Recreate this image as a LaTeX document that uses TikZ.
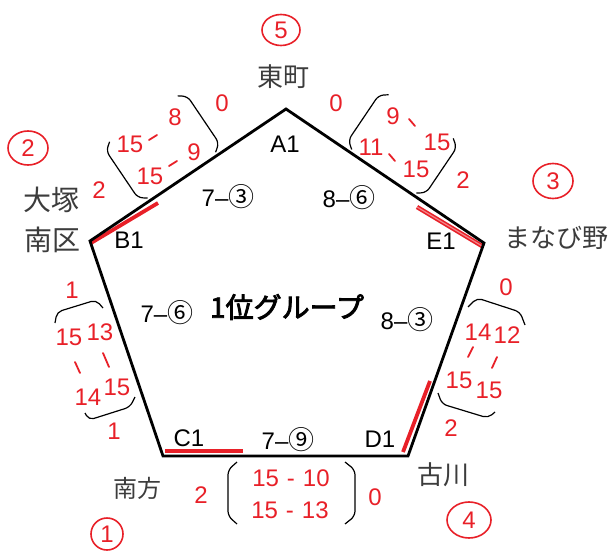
\documentclass[tikz,border=0pt]{standalone}
\usepackage{fontspec}
\setmainfont{Liberation Sans}
\newfontfamily\jp{Noto Sans CJK JP}
\newfontfamily\jpb[FakeBold=3]{Noto Sans CJK JP}
\usetikzlibrary{calc,shapes.geometric}
\definecolor{hred}{RGB}{232,32,40}
\definecolor{hgray}{RGB}{60,60,60}
\begin{document}
\begin{tikzpicture}[x=1pt,y=-1pt,
  edge/.style={line width=2.8pt, line join=miter},
  hl/.style={hred, line width=3.8pt},
  vlab/.style={font=\fontsize{24}{24}\selectfont, inner sep=0},
  score/.style={font=\fontsize{24}{24}\selectfont, inner sep=0},
  place/.style={font=\jp\fontsize{26}{26}\selectfont, text=hgray, inner sep=0},
  rnum/.style={font=\fontsize{24}{24}\selectfont, text=hred, inner sep=0},
  rank/.style={draw=hred, line width=1.6pt, ellipse, text=hred, font=\fontsize{24}{24}\selectfont, inner sep=0},
  brk/.style={line width=1.2pt, rounded corners=5pt},
  dsh/.style={hred, line width=1.8pt, line cap=round},
]
\useasboundingbox (0,0) rectangle (615,556);
% vertices
\coordinate (A) at (286,109);
\coordinate (B) at (90,241);
\coordinate (C) at (163,456);
\coordinate (D) at (408,456);
\coordinate (E) at (484,243);
% red highlights
\coordinate (hb1) at (91,243);  \coordinate (hb2) at (158,203);
\coordinate (he1) at (417,207); \coordinate (he2) at (482,246);
\coordinate (hc1) at (165,451); \coordinate (hc2) at (243,451);
\coordinate (hd1) at (403,452); \coordinate (hd2) at (430,381);
\draw[hl] (hb1) -- (hb2);
\draw[hred, line width=1.6pt, double=hred!55, double distance=1.2pt] (he1) -- (he2);
\draw[hl] (hc1) -- (hc2);
\draw[hl] (hd1) -- (hd2);
% pentagon
\draw[edge] (A) -- (B) -- (C) -- (D) -- (E) -- cycle;
% vertex labels
\node[vlab] (a1) at (285,144) {A1};
\node[vlab] (b1) at (129,240) {B1};
\node[vlab] (e1) at (441,241) {E1};
\node[vlab] (c1) at (189,438) {C1};
\node[vlab] (d1) at (380,439) {D1};
% inner scores
\node[score] (s1) at (228,197) {7–{\jp\fontsize{26}{26}\selectfont ③}};
\node[score] (s2) at (349,198) {8–{\jp\fontsize{26}{26}\selectfont ⑥}};
\node[score] (s3) at (167,313) {7–{\jp\fontsize{26}{26}\selectfont ⑥}};
\node[score] (s4) at (407,320) {8–{\jp\fontsize{26}{26}\selectfont ③}};
\node[score] (s5) at (288,440) {7–{\jp\fontsize{26}{26}\selectfont ⑨}};
\node[font=\jpb\fontsize{28}{28}\selectfont, inner sep=0] (title) at (287,307) {1位グループ};
% place names
\node[place] (p5) at (283,77) {東町};
\node[place, font=\jp\fontsize{28}{28}\selectfont] (p2a) at (51,200) {大塚};
\node[place, font=\jp\fontsize{28}{28}\selectfont] (p2b) at (52,240) {南区};
\node[place] (p3) at (556,238) {まなび野};
\node[place] (p4) at (443,475) {古川};
\node[place, font=\jp\fontsize{24}{24}\selectfont] (p1) at (137,488) {南方};
% ranks
\node[rank, minimum width=38pt, minimum height=31pt] (r5) at (281,30) {5};
\node[rank, minimum width=40pt, minimum height=34pt] (r2) at (28,148) {2};
\node[rank, minimum width=40pt, minimum height=35pt] (r3) at (553,181) {3};
\node[rank, minimum width=44pt, minimum height=36pt] (r4) at (469,520) {4};
\node[rank, minimum width=32pt, minimum height=32pt] (r1) at (107,534) {1};
% AB results
\node[rnum] (ab0) at (222,103) {0};
\node[rnum] (ab2) at (99,190) {2};
\node[rnum] (abt1) at (130,144) {15};
\node[rnum] (abt2) at (175,117) {8};
\node[rnum] (abb1) at (150,176) {15};
\node[rnum] (abb2) at (194,152) {9};
\coordinate (abd1) at (149,140); \coordinate (abd2) at (157,135);
\coordinate (abd3) at (169,166); \coordinate (abd4) at (177,161);
\draw[dsh] (abd1) -- (abd2);
\draw[dsh] (abd3) -- (abd4);
\begin{scope}[shift={(159,147)}, rotate=34]
  \draw[brk] (-38,-32) -- (-46,-26) -- (-46,30) -- (-38,36);
  \draw[brk] (44,-32) -- (52,-26) -- (52,30) -- (44,36);
\end{scope}
% AE results
\node[rnum] (ae0) at (336,103) {0};
\node[rnum] (ae2) at (463,180) {2};
\node[rnum] (aet1) at (393,116) {9};
\node[rnum] (aet2) at (437,142) {15};
\node[rnum] (aeb1) at (371,147) {11};
\node[rnum] (aeb2) at (416,169) {15};
\coordinate (aed1) at (409,119); \coordinate (aed2) at (415,126);
\coordinate (aed3) at (389,154); \coordinate (aed4) at (395,161);
\draw[dsh] (aed1) -- (aed2);
\draw[dsh] (aed3) -- (aed4);
\begin{scope}[shift={(405,142)}, rotate=-34]
  \draw[brk] (-40,-30) -- (-48,-24) -- (-48,30) -- (-40,36);
  \draw[brk] (38,-30) -- (46,-24) -- (46,30) -- (38,36);
\end{scope}
% BC results
\node[rnum] (bc1) at (72,290) {1};
\node[rnum] (bc2) at (114,431) {1};
\node[rnum] (bc3) at (69,337) {15};
\node[rnum] (bc4) at (88,397) {14};
\node[rnum] (bc5) at (100,332) {13};
\node[rnum] (bc6) at (117,387) {15};
\coordinate (bd1) at (75,362); \coordinate (bd2) at (80,373);
\coordinate (bd3) at (103,353); \coordinate (bd4) at (109,367);
\draw[dsh] (bd1) -- (bd2);
\draw[dsh] (bd3) -- (bd4);
\coordinate (bk1) at (55,323); \coordinate (bk2) at (57,312);
\coordinate (bk3) at (96,300); \coordinate (bk4) at (103,308);
\draw[brk] (bk1) -- (bk2) -- (bk3) -- (bk4);
\coordinate (bk5) at (85,413); \coordinate (bk6) at (89,420);
\coordinate (bk7) at (130,407); \coordinate (bk8) at (135,397);
\draw[brk] (bk5) -- (bk6) -- (bk7) -- (bk8);
% DE results
\node[rnum] (de0) at (506,287) {0};
\node[rnum] (de2) at (451,428) {2};
\node[rnum] (de3) at (478,332) {14};
\node[rnum] (de4) at (507,335) {12};
\node[rnum] (de5) at (459,380) {15};
\node[rnum] (de6) at (489,390) {15};
\coordinate (dd1) at (468,357); \coordinate (dd2) at (473,347);
\coordinate (dd3) at (492,368); \coordinate (dd4) at (497,357);
\draw[dsh] (dd1) -- (dd2);
\draw[dsh] (dd3) -- (dd4);
\coordinate (dk1) at (468,307); \coordinate (dk2) at (477,298);
\coordinate (dk3) at (520,312); \coordinate (dk4) at (525,325);
\draw[brk] (dk1) -- (dk2) -- (dk3) -- (dk4);
\coordinate (dk5) at (438,393); \coordinate (dk6) at (442,404);
\coordinate (dk7) at (488,418); \coordinate (dk8) at (495,412);
\draw[brk] (dk5) -- (dk6) -- (dk7) -- (dk8);
% CD results
\node[rnum] (cd2) at (201,495) {2};
\node[rnum] (cd0) at (375,497) {0};
\node[rnum] (cdt) at (291,478) {15\,\,-\,\,10};
\node[rnum] (cdb) at (290,510) {15\,\,-\,\,13};
\coordinate (ck1) at (237,462); \coordinate (ck2) at (228,470);
\coordinate (ck3) at (228,516); \coordinate (ck4) at (237,524);
\draw[brk] (ck1) -- (ck2) -- (ck3) -- (ck4);
\coordinate (ck5) at (345,462); \coordinate (ck6) at (355,470);
\coordinate (ck7) at (355,516); \coordinate (ck8) at (345,524);
\draw[brk] (ck5) -- (ck6) -- (ck7) -- (ck8);
\end{tikzpicture}
\end{document}
